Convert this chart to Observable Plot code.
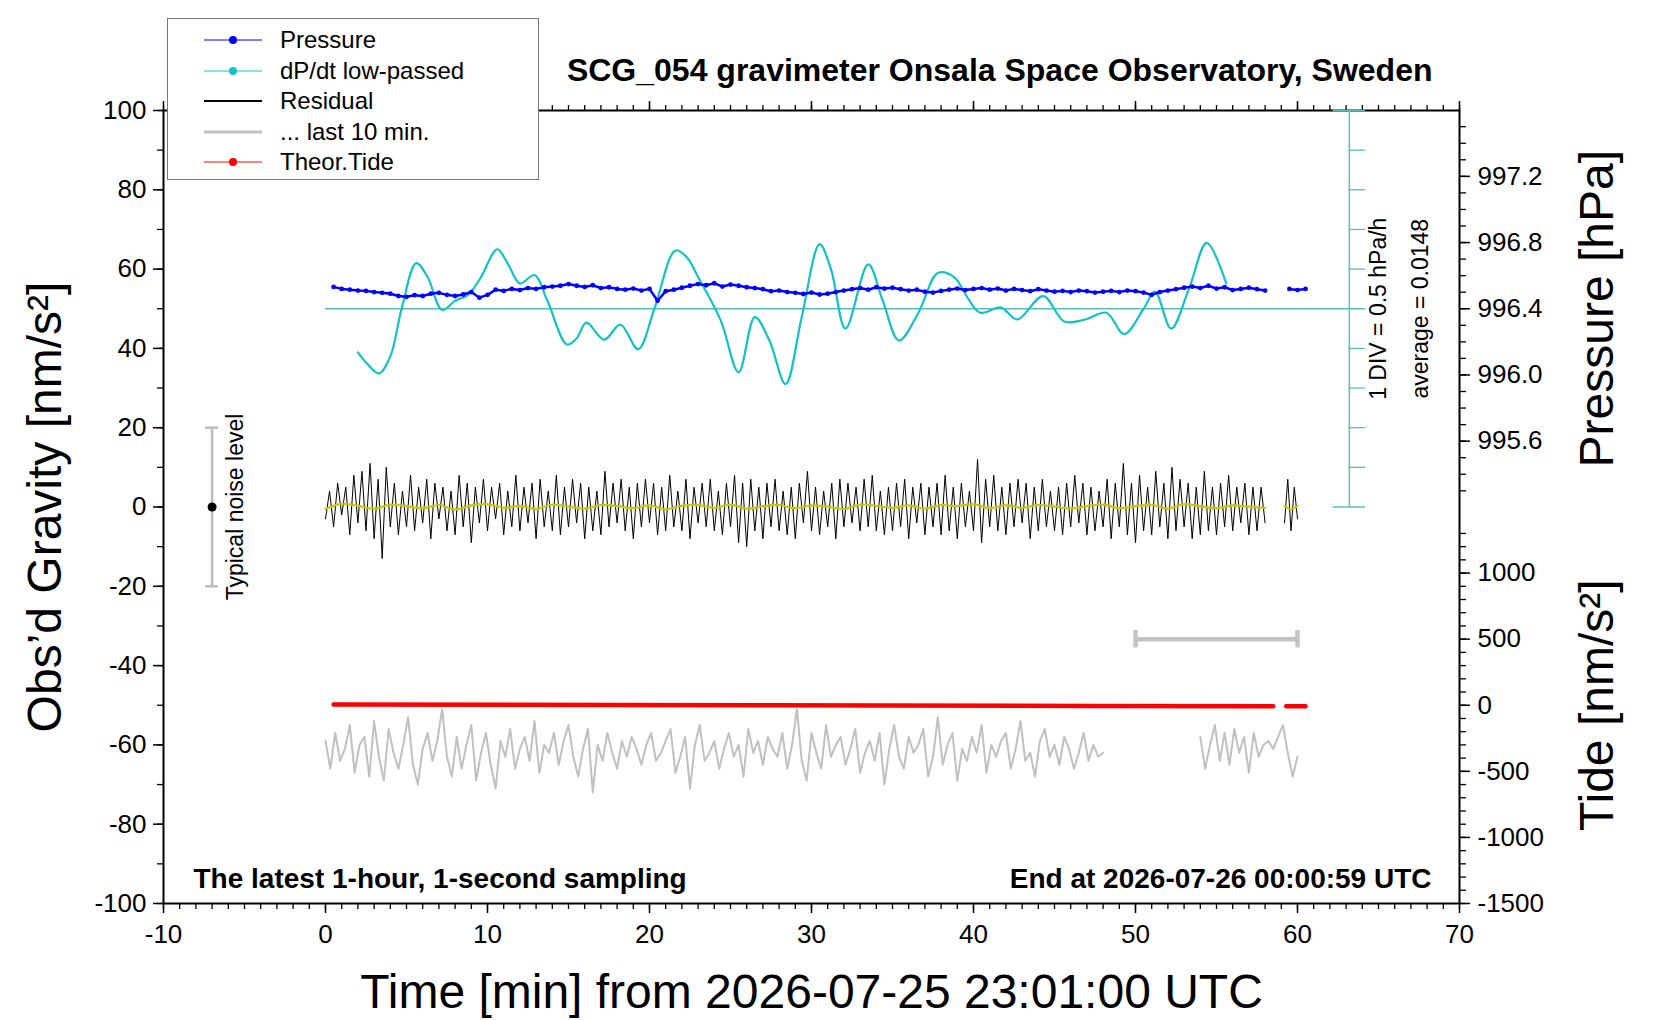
<!DOCTYPE html>
<html><head><meta charset="utf-8">
<script src="https://cdn.jsdelivr.net/npm/d3@7"></script>
<script src="https://cdn.jsdelivr.net/npm/@observablehq/plot@0.6"></script>
<style>
body{margin:0;background:#fff;font-family:"Liberation Sans",Arial,sans-serif}
#wrap{position:relative;width:1660px;height:1020px}
#legend{position:absolute;left:167px;top:18px;width:372px;height:162px;background:#fff;border:1px solid #777;box-sizing:border-box;font-size:24px}
.row{position:absolute;left:0;height:30px;display:flex;align-items:center}
.row svg{position:absolute;left:36px}
.row span{position:absolute;left:112px;white-space:nowrap}
</style></head><body>
<div id="wrap"><div id="chart"></div><div id="legend"></div></div>
<script>
// ---- data ----
const pressTimes = d3.range(0.5, 60.51, 0.5);
const pressure = [
996.532,996.520,996.515,996.510,996.508,996.501,996.496,996.491,996.477,996.472,
996.482,996.477,996.491,996.496,996.484,996.477,996.486,996.501,996.467,996.484,
996.515,996.508,996.520,996.513,996.525,996.520,996.530,996.534,996.539,996.549,
996.539,996.532,996.542,996.525,996.530,996.520,996.515,996.522,996.510,996.520,
996.448,996.506,996.515,996.527,996.539,996.549,996.542,996.554,996.534,996.546,
996.539,996.530,996.525,996.518,996.506,996.510,996.501,996.496,996.489,996.498,
996.486,996.491,996.501,996.510,996.518,996.525,996.515,996.530,996.522,996.527,
996.518,996.510,996.515,996.503,996.498,996.508,996.515,996.522,996.513,996.520,
996.525,996.515,996.522,996.510,996.520,996.513,996.506,996.518,996.510,996.503,
996.508,996.501,996.510,996.506,996.498,996.503,996.508,996.501,996.510,996.506,
996.498,996.484,996.501,996.510,996.518,996.527,996.534,996.525,996.539,996.522,
996.530,996.513,996.520,996.527,996.518,996.510,
null,null,996.520,996.513,996.520];
const pressAvg = 996.4;
const dpdtTimes = [2,2.6,3.3,4,4.7,5.6,6.3,7.2,8,8.8,9.6,10.6,11.3,12,12.9,13.7,14.9,15.5,16.1,17.2,18.2,19.3,20.3,21.6,22.3,23,24.4,25.5,26.5,27.4,28.4,29.4,30.5,31.2,32.1,33.5,34.4,35.4,36.6,37.8,38.8,39.6,40.4,41.7,42.7,44.3,45.6,46.9,48.2,49.3,50.5,51.2,52.2,53.3,54.4,55.6];
const dpdt = [-0.55,-0.70,-0.815,-0.60,0,0.575,0.40,-0.015,0.10,0.175,0.40,0.75,0.55,0.32,0.425,0.10,-0.45,-0.375,-0.175,-0.39,-0.20,-0.51,0,0.735,0.65,0.40,-0.15,-0.80,-0.105,-0.40,-0.95,-0.10,0.815,0.50,-0.25,0.56,0.10,-0.40,-0.05,0.45,0.40,0.15,-0.05,0.015,-0.135,0.16,-0.16,-0.135,-0.05,-0.32,0,0.215,-0.25,0.25,0.83,0.32];
const residual1 = [
-3,4,-5,6,-2,5,-7,8,-4,9, -6,11,-8,7,-13,10,-5,6,-7,4, -5,8,-6,5,-4,7,-8,6,-3,5,
-6,4,-7,8,-5,6,-9,5,-4,7, -6,5,-3,6,-7,4,-5,8,-6,5, -4,6,-8,7,-5,4,-6,8,-7,5,
-5,7,-4,6,-8,5,-6,4,-7,9, -5,6,-4,7,-6,5,-8,6,-5,7, -4,6,-7,5,-6,8,-5,4,-6,7,
-8,5,-4,6,-5,7,-6,4,-7,6, -5,8,-9,6,-10,7,-6,5,-8,6, -5,7,-6,4,-7,5,-8,6,-4,9,
-6,5,-7,4,-5,6,-8,7,-5,6, -4,5,-6,7,-5,8,-6,4,-7,5, -6,6,-5,7,-8,5,-4,6,-7,5,
-5,6,-7,8,-6,5,-8,6,-5,4, -6,12,-9,7,-5,8,-6,5,-7,6, -5,7,-4,6,-8,5,-6,7,-5,4,
-6,5,-7,6,-5,8,-4,6,-7,5, -6,4,-5,7,-8,6,-5,11,-7,6, -9,8,-6,5,-7,9,-5,6,-8,10,
-6,7,-5,6,-8,5,-7,9,-6,5, -7,6,-5,8,-6,5,-4,6,-7,5, -6,5,-4];
const residual2 = [-4,7,-6,5,-3];
const smooth1 = [-0.5,0.8,0.3,-0.4,0.6,0.2,-0.3,0.5,-0.6,0.4,0.7,-0.2,0.3,-0.5,0.6,0.1,-0.4,0.5,0.2,-0.3,0.4,-0.6,0.3,0.5,-0.2,0.6,-0.4,0.2,0.5,-0.3,0.4,0.1,-0.5,0.6,0.3,-0.2,0.4,-0.4,0.5,0.2,0.7,-0.3,0.4,-0.2,0.5,0.1,-0.4,0.3,0.6,-0.3,0.2,0.5,-0.4,0.7,0.2,-0.3,0.4,0.1,-0.2];
const smooth2 = [0.3,-0.5,0.2];
const last10a = [
-59,-66,-57,-64,-61,-55,-67,-60,-58,-68, -54,-63,-69,-56,-62,-66,-60,-53,-65,-70,
-61,-57,-64,-59,-51,-63,-68,-58,-66,-60, -55,-69,-62,-57,-65,-71,-59,-63,-56,-66,
-61,-58,-64,-54,-67,-60,-62,-57,-65,-59, -55,-63,-68,-61,-56,-72,-60,-64,-57,-62,
-66,-59,-63,-58,-61,-65,-60,-57,-64,-62, -59,-56,-67,-63,-58,-71,-60,-55,-64,-62,
-59,-66,-61,-57,-63,-60,-68,-56,-62,-59, -65,-58,-61,-63,-57,-66,-60,-51,-64,-69,
-57,-62,-66,-55,-63,-60,-58,-65,-61,-56, -67,-62,-59,-64,-57,-70,-61,-55,-63,-66,
-58,-62,-60,-56,-68,-63,-53,-65,-60,-57, -69,-61,-64,-58,-62,-55,-67,-60,-63,-59,
-57,-66,-61,-54,-64,-62,-68,-59,-56,-63, -60,-65,-58,-61,-66,-62,-57,-64,-60,-63,-62];
const last10b = [-58,-66,-60,-55,-64,-57,-65,-56,-62,-58,-67,-57,-63,-60,-59,-61,-58,-55,-62,-68,-63];
const tideTimes = [0.5,18,35,47.5,58.5,null,59.3,60.5];
const tide = [5,2,-2,-5,-7,null,-7,-7];
const tideBar = {x1:50, x2:60, value:500};
const noise = {x:-7, lo:-20, hi:20};
const pressTicks = [995.6,996.0,996.4,996.8,997.2];
const tideTicks = [-1500,-1000,-500,0,500,1000];

// ---- mappings onto gravity axis ----
const p2g = p => 50 + (p - pressAvg) * 41.74;
const g2p = g => pressAvg + (g - 50) / 41.74;
const t2g = t => -50 + t * (50/1500);
const g2t = g => (g + 50) * 30;
const d2g = v => 50 + v * 20;

const pressData = pressTimes.map((t,i)=>({t, g: pressure[i]==null?null:p2g(pressure[i])}));
const dpdtData = dpdtTimes.map((t,i)=>({t, g:d2g(dpdt[i])}));
const res = residual1.map((v,i)=>({t:i*0.25,g:v})).concat([{t:58.5,g:null}], residual2.map((v,i)=>({t:59.2+i*0.2,g:v})));
const sm = smooth1.map((v,i)=>({t:i,g:v})).concat([{t:58.5,g:null}], smooth2.map((v,i)=>({t:59.2+i*0.4,g:v})));
const gl = last10a.map((v,i)=>({t:i*0.3,g:v})).concat([{t:50,g:null}], last10b.map((v,i)=>({t:54+i*0.3,g:v})));
const td = tideTimes.map((t,i)=>({t, g: tide[i]==null?null:t2g(tide[i])}));

const F = "Liberation Sans, Arial, sans-serif";
const cyanAx = "#5cbcb6";
const fmt = d => String(d);
const pMinor = d3.range(995.3, 997.65, 0.1).map(p2g).filter(g=>g<=100);
const tMinor = d3.range(-1500, 1301, 100).map(t2g);
const TF = 26;

const chart = Plot.plot({
  width:1660, height:1020,
  marginLeft:163, marginRight:201, marginTop:110, marginBottom:117,
  style:{fontFamily:F, fontSize:"26px", color:"#000", background:"#fff"},
  x:{domain:[-10,70]}, y:{domain:[-100,100]},
  marks:[
    Plot.axisX(d3.range(-10,71,1), {tickSize:6, text:null, label:null, strokeWidth:1.3}),
    Plot.axisX(d3.range(-10,71,10), {tickSize:10, tickPadding:11, tickFormat:fmt, fontSize:TF, label:null, strokeWidth:1.5}),
    Plot.axisX(d3.range(-10,71,1), {anchor:"top", tickSize:6, text:null, label:null, strokeWidth:1.3}),
    Plot.axisX(d3.range(-10,71,10), {anchor:"top", tickSize:10, text:null, label:null, strokeWidth:1.5}),
    Plot.axisY(d3.range(-100,101,10), {tickSize:6, text:null, label:null, strokeWidth:1.3}),
    Plot.axisY(d3.range(-100,101,20), {tickSize:10, tickPadding:7, tickFormat:fmt, fontSize:TF, label:null, strokeWidth:1.5}),
    Plot.axisY(pMinor, {anchor:"right", tickSize:6, text:null, label:null, strokeWidth:1.3}),
    Plot.axisY(pressTicks.map(p2g), {anchor:"right", tickSize:10, tickPadding:8, tickFormat:g=>g2p(g).toFixed(1), fontSize:TF, label:null, strokeWidth:1.5}),
    Plot.axisY(tMinor, {anchor:"right", tickSize:6, text:null, label:null, strokeWidth:1.3}),
    Plot.axisY(tideTicks.map(t2g), {anchor:"right", tickSize:10, tickPadding:8, tickFormat:g=>String(Math.round(g2t(g))), fontSize:TF, label:null, strokeWidth:1.5}),
    Plot.frame({stroke:"#000", strokeWidth:2}),
    // dP/dt axis
    Plot.ruleX([63.2], {y1:0, y2:100, stroke:cyanAx, strokeWidth:1.5}),
    Plot.ruleY(d3.range(10,100,10).filter(d=>d!==50), {x1:63.2, x2:64.2, stroke:cyanAx, strokeWidth:1.3}),
    Plot.ruleY([0,100], {x1:62.2, x2:64.2, stroke:cyanAx, strokeWidth:1.5}),
    Plot.ruleY([p2g(pressAvg)], {x1:0, x2:64.2, stroke:cyanAx, strokeWidth:1.5}),
    // noise bar
    Plot.ruleX([noise.x], {y1:noise.lo, y2:noise.hi, stroke:"#bbb", strokeWidth:2.5}),
    Plot.ruleY([noise.lo, noise.hi], {x1:noise.x-0.4, x2:noise.x+0.4, stroke:"#bbb", strokeWidth:2.5}),
    Plot.dot([0], {x:noise.x, y:d=>d, r:4.5, fill:"#000"}),
    Plot.text(["Typical noise level"], {x:noise.x, y:0, dx:24, rotate:-90, fontSize:23}),
    // tide bar
    Plot.ruleY([t2g(tideBar.value)], {x1:tideBar.x1, x2:tideBar.x2, stroke:"#c4c4c4", strokeWidth:4.5}),
    Plot.ruleX([tideBar.x1, tideBar.x2], {y1:t2g(tideBar.value)-2.2, y2:t2g(tideBar.value)+2.2, stroke:"#c4c4c4", strokeWidth:4.5}),
    // series
    Plot.line(gl, {x:"t", y:"g", stroke:"#c0c0c0", strokeWidth:2}),
    Plot.line(td, {x:"t", y:"g", stroke:"#ff0000", strokeWidth:4.5}),
    Plot.line(res, {x:"t", y:"g", stroke:"#000", strokeWidth:1}),
    Plot.line(sm, {x:"t", y:"g", stroke:"#c8c800", strokeWidth:2.2, curve:"catmull-rom"}),
    Plot.line(dpdtData, {x:"t", y:"g", stroke:"#14c2c6", strokeWidth:2.2, curve:"catmull-rom"}),
    Plot.line(pressData, {x:"t", y:"g", stroke:"#0000ff", strokeWidth:2.5}),
    Plot.dot(pressData.filter(d=>d.g!=null), {x:"t", y:"g", r:2.4, fill:"#0000ff", stroke:null}),
    // texts
    Plot.text(["1 DIV = 0.5 hPa/h"], {x:70, y:50, dx:-81, rotate:-90, fontSize:23}),
    Plot.text(["average = 0.0148"], {x:70, y:50, dx:-39, rotate:-90, fontSize:23}),
    Plot.text(["SCG_054 gravimeter Onsala Space Observatory, Sweden"], {frameAnchor:"top-right", dx:-27, dy:-52, textAnchor:"end", fontSize:32, fontWeight:"bold"}),
    Plot.text(["The latest 1-hour, 1-second sampling"], {frameAnchor:"bottom-left", dx:30, dy:-16, textAnchor:"start", fontSize:28, fontWeight:"bold"}),
    Plot.text(["End at 2026-07-26 00:00:59 UTC"], {frameAnchor:"bottom-right", dx:-28, dy:-16, textAnchor:"end", fontSize:28, fontWeight:"bold"}),
    Plot.text(["Time [min] from 2026-07-25 23:01:00 UTC"], {frameAnchor:"bottom", dy:104, fontSize:48}),
    Plot.text(["Obs’d Gravity [nm/s²]"], {frameAnchor:"left", dx:-118, rotate:-90, textAnchor:"middle", fontSize:48}),
    Plot.text(["Pressure [hPa]"], {x:70, y:50, dx:138, rotate:-90, textAnchor:"middle", fontSize:48}),
    Plot.text(["Tide [nm/s²]"], {x:70, y:-50, dx:138, rotate:-90, textAnchor:"middle", fontSize:48})
  ]
});
document.getElementById("chart").append(chart);

// legend
const legendItems = [
  {label:"Pressure", color:"#0000ff", w:1, dot:true},
  {label:"dP/dt low-passed", color:"#14c2c6", w:1, dot:true},
  {label:"Residual", color:"#000", w:2, dot:false},
  {label:"... last 10 min.", color:"#c0c0c0", w:3, dot:false},
  {label:"Theor.Tide", color:"#ff0000", w:1, dot:true}
];
const lg = document.getElementById("legend");
legendItems.forEach((it,i)=>{
  const row = document.createElement("div");
  row.className="row"; row.style.top=(6+i*30.6)+"px"; row.style.width="100%";
  row.innerHTML = `<svg width="60" height="30"><line x1="0" x2="58" y1="15" y2="15" stroke="${it.color}" stroke-width="${it.w}"/>${it.dot?`<circle cx="29" cy="15" r="4" fill="${it.color}"/>`:""}</svg><span>${it.label}</span>`;
  lg.append(row);
});
</script></body></html>
